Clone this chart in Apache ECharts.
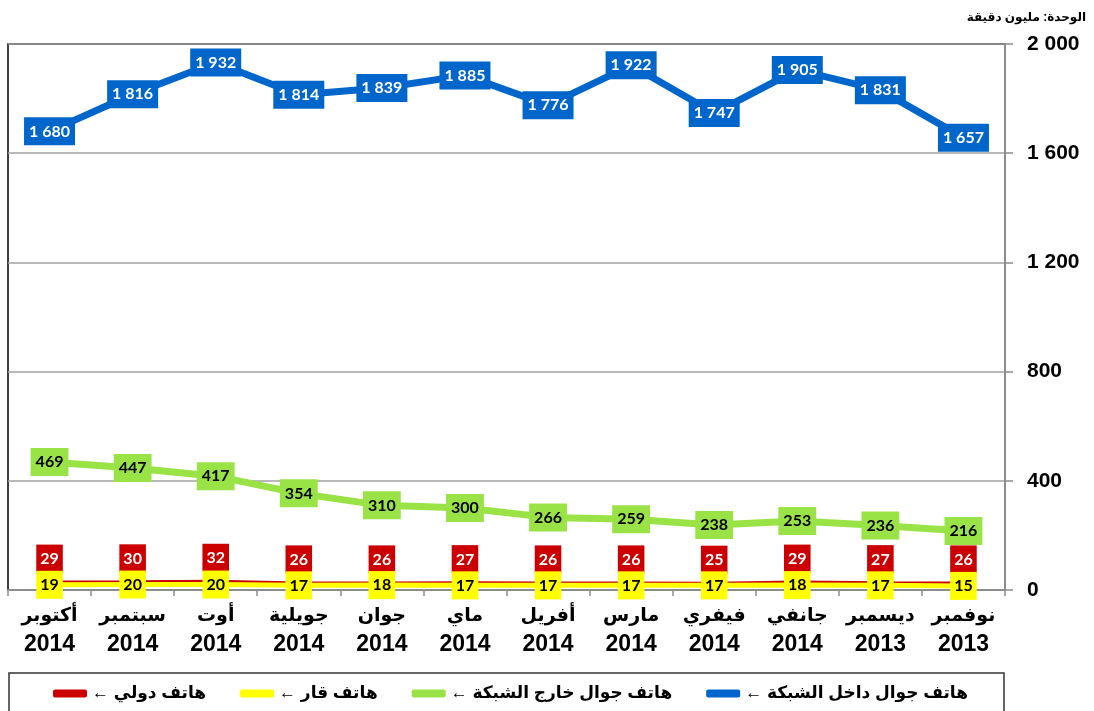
<!DOCTYPE html>
<html><head><meta charset="utf-8">
<script src="https://cdn.jsdelivr.net/npm/echarts@6/dist/echarts.min.js"></script>
<style>html,body{margin:0;padding:0;background:#fff}#c{width:1094px;height:711px}</style>
</head><body><div id="c"></div>
<script>
// chronological order (displayed right to left)
const months = ['نوفمبر','ديسمبر','جانفي','فيفري','مارس','أفريل','ماي','جوان','جويلية','أوت','سبتمبر','أكتوبر'];
const years  = ['2013','2013','2014','2014','2014','2014','2014','2014','2014','2014','2014','2014'];
const onNet  = [1657,1831,1905,1747,1922,1776,1885,1839,1814,1932,1816,1680];
const offNet = [216,236,253,238,259,266,300,310,354,417,447,469];
const intl   = [26,27,29,25,26,26,27,26,26,32,30,29];
const fixed  = [15,17,18,17,17,17,17,18,17,20,20,19];
const yTicks = [0,400,800,1200,1600,2000];
const names = ['هاتف جوال داخل الشبكة','هاتف جوال خارج الشبكة','هاتف قار','هاتف دولي'];

const cats = months.map((m,i)=>m+'|'+years[i]);
const fmt = v => { const n = Math.round(v); return n>=1000 ? Math.floor(n/1000)+' '+String(n%1000).padStart(3,'0') : String(n); };
const lblFont = 'Lato, "Open Sans", sans-serif';
const axFont = '"Liberation Sans", "DejaVu Sans", Arial, sans-serif';

const chart = echarts.init(document.getElementById('c'));
function lbl(bg, fg, pos, dist, padX){
  return {show:true, position:pos, distance:dist||0, formatter:p=>fmt(p.value),
    backgroundColor:bg, color:fg, fontFamily:lblFont, fontWeight:'bold', fontSize:16,
    padding:[6,padX,5,padX], lineHeight:17};
}
function line(name, data, color, width, label, z){
  return {name, type:'line', data, symbol:'circle', symbolSize:1, showSymbol:true, color, z,
    itemStyle:{color}, lineStyle:{width, color}, label, labelLayout:{hideOverlap:false}};
}
chart.setOption({
  animation:false,
  grid:{left:8, right:89, top:44, bottom:121, show:true, borderColor:'#000', borderWidth:1.5},
  title:{text:'الوحدة: مليون دقيقة', right:3, top:7,
    textStyle:{fontFamily:axFont, fontWeight:'bold', fontSize:12, color:'#000'}},
  xAxis:{type:'category', data:cats, inverse:true, boundaryGap:true,
    axisLine:{lineStyle:{color:'#8c8c8c', width:2}},
    axisTick:{show:true, length:6, lineStyle:{color:'#8c8c8c', width:1.5}},
    axisLabel:{interval:0, margin:12,
      formatter:v=>{const p=v.split('|'); return '{m|'+p[0]+'}\n{y|'+p[1]+'}';},
      rich:{
        m:{fontFamily:axFont, fontWeight:'bold', fontSize:19, color:'#000', lineHeight:28},
        y:{fontFamily:axFont, fontWeight:'bold', fontSize:23, color:'#000', lineHeight:30}
      }}},
  yAxis:{type:'value', position:'right', min:0, max:2000, interval:400,
    axisLine:{show:true, lineStyle:{color:'#8c8c8c', width:2}},
    axisTick:{show:true, length:8, lineStyle:{color:'#8c8c8c', width:1.5}},
    splitLine:{lineStyle:{color:'#a0a0a0', width:1.5}},
    axisLabel:{align:'left', margin:22, fontFamily:axFont, fontWeight:'bold', fontSize:21, color:'#000',
      formatter:v=>yTicks.includes(v)?fmt(v):''}},
  legend:{data:[names[3],names[2],names[1],names[0]], left:48, top:680,
    itemWidth:34, itemHeight:8, itemGap:34, icon:'roundRect',
    formatter:n=>'← '+n,
    textStyle:{fontFamily:axFont, fontWeight:'bold', fontSize:17, color:'#000'}},
  graphic:[{type:'rect', shape:{x:9, y:673, width:995, height:50},
    style:{fill:'none', stroke:'#333', lineWidth:1.5}, silent:true, z:-1}],
  series:[
    line(names[0], onNet, '#0066CC', 7, lbl('#0066CC','#fff','inside',0,5), 2),
    line(names[1], offNet, '#99E346', 7, lbl('#99E346','#000','inside',0,5), 2),
    line(names[2], fixed, '#FFFF00', 5, lbl('#FFFF00','#000','inside',0,4), 3),
    line(names[3], intl, '#CC0000', 3, lbl('#CC0000','#fff','top',9,4), 2)
  ]
});
</script></body></html>
